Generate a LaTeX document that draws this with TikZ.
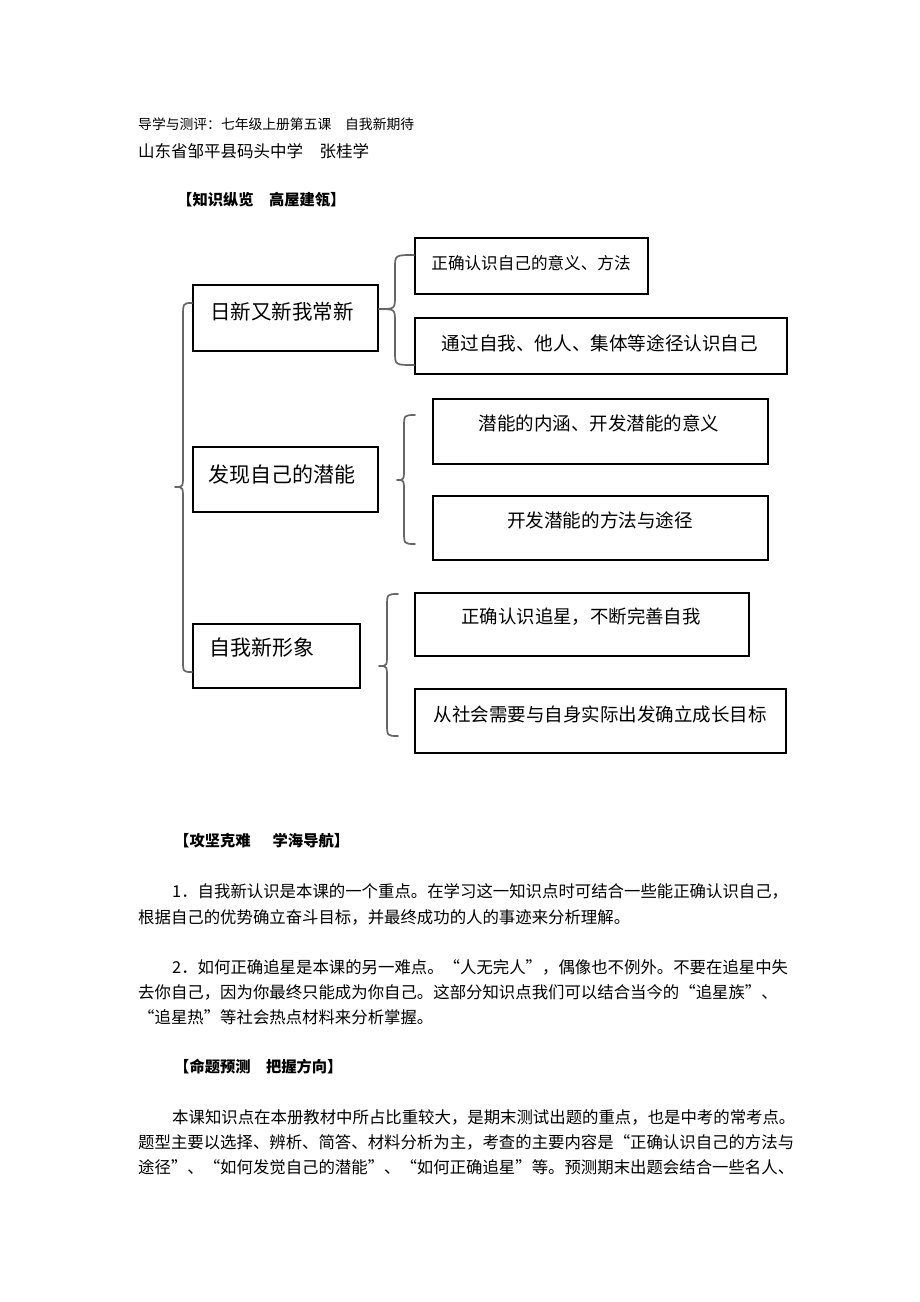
\documentclass[tikz,border=0pt]{standalone}
\usepackage{fontspec}
\setmainfont{Noto Sans CJK SC}
\newfontfamily\cjk{Noto Sans CJK SC}
\tikzset{
  x=1pt, y=-1pt,
  box/.style={draw=black, line width=1.4pt, inner sep=0pt, fill=white},
  brace/.style={draw=black!60, line width=1.7pt, line join=round, line cap=round},
  txt/.style={inner sep=0pt, text=black},
  line/.style={inner sep=0pt, anchor=west, text=black, font=\cjk\fontsize{16.4}{18}\selectfont},
  head/.style={inner sep=0pt, anchor=west, text=black, font=\cjk\bfseries\fontsize{15.3}{18}\selectfont},
}
\begin{document}
\begin{tikzpicture}
\useasboundingbox[fill=white] (0,0) rectangle (920,1302);

% header
\node[txt, anchor=west, font=\cjk\fontsize{13.8}{16}\selectfont] (h1) at (138,124) {导学与测评：七年级上册第五课　自我新期待};
\node[txt, anchor=west, font=\cjk\fontsize{16.5}{18}\selectfont] (h2) at (138,151) {山东省邹平县码头中学　张桂学};
\node[head] (k1) at (177,200) {【知识纵览　高屋建瓴】};

% boxes
\node[box, minimum width=185pt, minimum height=66pt] (A) at (285.5,318) {};
\node[box, minimum width=233pt, minimum height=56pt] (A1) at (531.5,266) {};
\node[box, minimum width=372pt, minimum height=56pt] (A2) at (601,346) {};
\node[box, minimum width=185pt, minimum height=65pt] (B) at (285.5,479.5) {};
\node[box, minimum width=335pt, minimum height=65pt] (B1) at (600.5,431.5) {};
\node[box, minimum width=335pt, minimum height=64pt] (B2) at (600.5,528) {};
\node[box, minimum width=167pt, minimum height=64pt] (C) at (276.5,656) {};
\node[box, minimum width=334pt, minimum height=63pt] (C1) at (582,624.5) {};
\node[box, minimum width=371pt, minimum height=64pt] (C2) at (600.5,721) {};

% box texts
\node[txt, anchor=west, font=\cjk\fontsize{20.5}{22}\selectfont] (At) at (210,312) {日新又新我常新};
\node[txt, anchor=west, font=\cjk\fontsize{21}{22}\selectfont] (Bt) at (208,475) {发现自己的潜能};
\node[txt, anchor=west, font=\cjk\fontsize{21}{22}\selectfont] (Ct) at (209,648) {自我新形象};
\node[txt, font=\cjk\fontsize{16.6}{18}\selectfont] (A1t) at (531,263) {正确认识自己的意义、方法};
\node[txt, font=\cjk\fontsize{18.6}{20}\selectfont] (A2t) at (600,343) {通过自我、他人、集体等途径认识自己};
\node[txt, font=\cjk\fontsize{18.5}{20}\selectfont] (B1t) at (599,423) {潜能的内涵、开发潜能的意义};
\node[txt, font=\cjk\fontsize{18.6}{20}\selectfont] (B2t) at (600,520) {开发潜能的方法与途径};
\node[txt, font=\cjk\fontsize{18.4}{20}\selectfont] (C1t) at (581,617) {正确认识追星，不断完善自我};
\node[txt, font=\cjk\fontsize{18.5}{20}\selectfont] (C2t) at (600,714) {从社会需要与自身实际出发确立成长目标};

% braces
\draw[brace] (A1.west |- 0,255) .. controls (395,255) .. (395,268) -- (395,296)
  .. controls (395,309) .. (A.east |- 0,309) .. controls (395,309) .. (395,322) -- (395,352)
  .. controls (395,365) .. (A2.west |- 0,365);
\coordinate (bt) at (415,415);
\coordinate (bb) at (415,544);
\draw[brace] (bt) .. controls (404,415) .. (404,428) -- (404,468)
  .. controls (404,480) .. (397,480) .. controls (404,480) .. (404,492) -- (404,531)
  .. controls (404,544) .. (bb);
\coordinate (ct) at (398,594);
\coordinate (cb) at (398,736);
\draw[brace] (ct) .. controls (387,594) .. (387,607) -- (387,654)
  .. controls (387,666) .. (379,666) .. controls (387,666) .. (387,678) -- (387,723)
  .. controls (387,736) .. (cb);
\coordinate (tip) at (175,487);
\draw[brace] (A.west |- 0,303) .. controls (183,303) .. (183,318) -- (183,475)
  .. controls (183,487) .. (tip) .. controls (183,487) .. (183,499) -- (183,660)
  .. controls (183,672) .. (C.west |- 0,672);

% section 2
\node[head] (k2) at (174,841) {【攻坚克难\hspace{22pt}学海导航】};
\node[line] (p1a) at (172,891) {1．自我新认识是本课的一个重点。在学习这一知识点时可结合一些能正确认识自己，};
\node[line] (p1b) at (138,917) {根据自己的优势确立奋斗目标，并最终成功的人的事迹来分析理解。};
\node[line] (p2a) at (172,967) {2．如何正确追星是本课的另一难点。“人无完人”，偶像也不例外。不要在追星中失};
\node[line] (p2b) at (138,992) {去你自己，因为你最终只能成为你自己。这部分知识点我们可以结合当今的“追星族”、};
\node[line] (p2c) at (138,1017) {“追星热”等社会热点材料来分析掌握。};

% section 3
\node[head] (k3) at (174,1067) {【命题预测　把握方向】};
\node[line] (p3a) at (172,1117) {本课知识点在本册教材中所占比重较大，是期末测试出题的重点，也是中考的常考点。};
\node[line] (p3b) at (138,1142) {题型主要以选择、辨析、简答、材料分析为主，考查的主要内容是“正确认识自己的方法与};
\node[line] (p3c) at (138,1167) {途径”、“如何发觉自己的潜能”、“如何正确追星”等。预测期末出题会结合一些名人、};
\end{tikzpicture}
\end{document}
